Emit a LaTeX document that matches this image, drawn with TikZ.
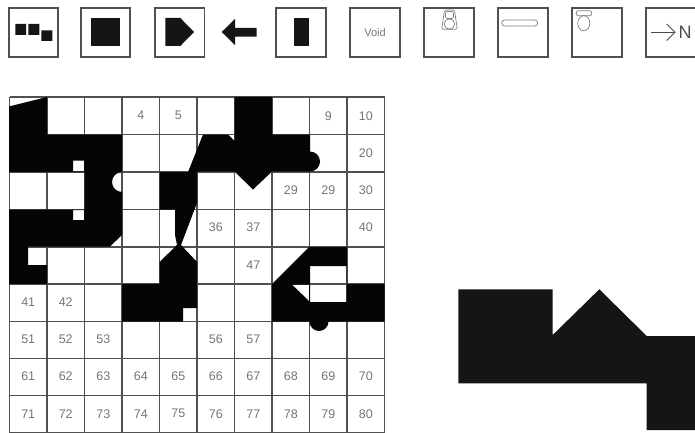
\documentclass[tikz,border=0pt]{standalone}
\usepackage{fontspec}
\setmainfont{Liberation Sans}
\definecolor{ink}{HTML}{050505}
\definecolor{softink}{HTML}{151515}
\definecolor{rule}{HTML}{505050}
\definecolor{digit}{HTML}{767676}
\tikzset{
  framebox/.style={draw=rule,line width=1.3pt},
  solid shape/.style={fill=ink,draw=none,even odd rule},
  gridline/.style={draw=rule,line width=1.4pt},
  iconline/.style={draw=black!50,line width=.7pt},
  num/.style={text=digit,font=\fontsize{12.5}{12.5}\selectfont,inner sep=0pt}
}
\begin{document}
\begin{tikzpicture}[x=1pt,y=-1pt]
\useasboundingbox (0,0) rectangle (695,433);
\fill[white] (0,0) rectangle (695,433);
% toolbar frames
\foreach \l/\r in {9/58,81/130,155/204.5,276/326,350/400,424/474,498/548,572/622,646/695.5}
  \draw[framebox] (\l,8) rectangle (\r,57);
% toolbar symbols
\fill[solid shape,fill=softink] (15.3,24) rectangle (26,35) (28.3,24) rectangle (39.3,35) (41.3,30.3) rectangle (52.3,41);
\fill[solid shape,fill=softink] (91.3,18) rectangle (120.3,46);
\fill[solid shape,fill=softink] (165.3,18) -- (180.3,18) -- (194,32) -- (180.3,46) -- (165.3,46) -- cycle;
\fill[solid shape,fill=softink] (221.7,32) -- (235,19) -- (235,28) -- (256.7,28) -- (256.7,36.7) -- (235,36.7) -- (235,45) -- cycle;
\fill[solid shape,fill=softink] (293.7,18) rectangle (309,46);
\node[text=digit,font=\fontsize{11}{11}\selectfont,inner sep=0pt] (void) at (375,32.5) {Void};
% basin
\draw[iconline,rounded corners=1.5pt] (444.5,10) -- (454.5,10) -- (457.3,29.3) -- (441.7,29.3) -- cycle;
\draw[iconline,rounded corners=2pt] (445.5,11.5) rectangle (453.5,18.5);
\draw[iconline] (449.4,24) circle[radius=5.2];
% bath
\draw[iconline,rounded corners=3pt] (501.7,20) rectangle (537.7,26);
% toilet
\draw[iconline,rounded corners=2pt] (576.3,10.7) rectangle (591.7,15.7);
\draw[iconline] (583.8,23.2) ellipse[x radius=6,y radius=7.6];
% north arrow
\coordinate (ntail) at (651,32.3);
\coordinate (nhead) at (675,32.3);
\draw[draw=black!70,line width=.9pt] (ntail) -- (nhead);
\draw[draw=black!70,line width=.9pt] (666.7,24) -- (nhead) -- (666.7,40.6);
\node[text=black!70,font=\fontsize{18}{18}\selectfont,inner sep=0pt] (north) at (685,32.3) {N};
% grid
\foreach \i in {0,...,10} \draw[gridline] ({9.5+37.5*\i},97) -- ({9.5+37.5*\i},432.5);
\foreach \y in {97,134.5,172,209.5,247,284,321.5,358.5,395.5,432.5} \draw[gridline] (9.5,\y) -- (384.5,\y);
% numbers: col/row/text
\foreach \c/\r/\t in {
 3/0/4,4/0/5,8/0/9,9/0/10,
 9/1/20,
 7/2/29,8/2/29,9/2/30,
 5/3/36,6/3/37,9/3/40,
 6/4/47,
 0/5/41,1/5/42,
 0/6/51,1/6/52,2/6/53,5/6/56,6/6/57,
 0/7/61,1/7/62,2/7/63,3/7/64,4/7/65,5/7/66,6/7/67,7/7/68,8/7/69,9/7/70,
 0/8/71,1/8/72,2/8/73,3/8/74,4/8/75,5/8/76,6/8/77,7/8/78,8/8/79,9/8/80}
  \node[num] (n\c-\r) at ({28.25+37.5*\c},{115.7+37.25*\r}) {\t};
% left figure
\fill[solid shape] (9,106.5) -- (47,97) -- (47,134.5) -- (122,134.5) -- (122,172)
  arc[start angle=270,end angle=90,radius=10] -- (122,235) -- (110,246.5) -- (28,246.5)
  -- (28,265) -- (47,265) -- (47,284) -- (9,284) -- (9,209.5) -- (84.5,209.5) -- (84.5,172) -- (9,172) -- cycle
  (73,160.5) rectangle (84,171.4)
  (73,210) rectangle (84,220);
% middle figure
\fill[solid shape] (159.5,172) -- (188,172) -- (203,134.5) -- (228,134.5) -- (234.5,141) -- (234.5,97)
  -- (272,97) -- (272,134.5) -- (310,134.5) -- (310,151.5)
  arc[start angle=-90,end angle=90,radius=10] -- (272,171.5) -- (253,189.5) -- (234.5,171.5) -- (197,171.5)
  -- (197,203) -- (181,245) -- (197,262) -- (197,308) -- (183,308) -- (183,321.5) -- (122,321.5)
  -- (122,284) -- (159.5,284) -- (159.5,262) -- (177,245) -- (175,235) -- (175,209.5) -- (159.5,209.5) -- cycle;
% right figure
\fill[solid shape] (272,284) -- (309,247) -- (347,247) -- (347,266) -- (347,284) -- (384.5,284) -- (384.5,321.5)
  -- (328.5,321.5) arc[start angle=0,end angle=180,radius=9.5] -- (272,321.5) -- cycle
  (310,266) rectangle (346.5,302)
  (292,284.6) -- (309,284.6) -- (309,301) -- cycle;
% large outline
\fill[solid shape,fill=softink] (458.3,289.3) -- (552.7,289.3) -- (552.7,335) -- (599.3,289.3) -- (646.7,336) -- (695,336)
  -- (695,430) -- (646.7,430) -- (646.7,383.3) -- (458.3,383.3) -- cycle;
\end{tikzpicture}
\end{document}
